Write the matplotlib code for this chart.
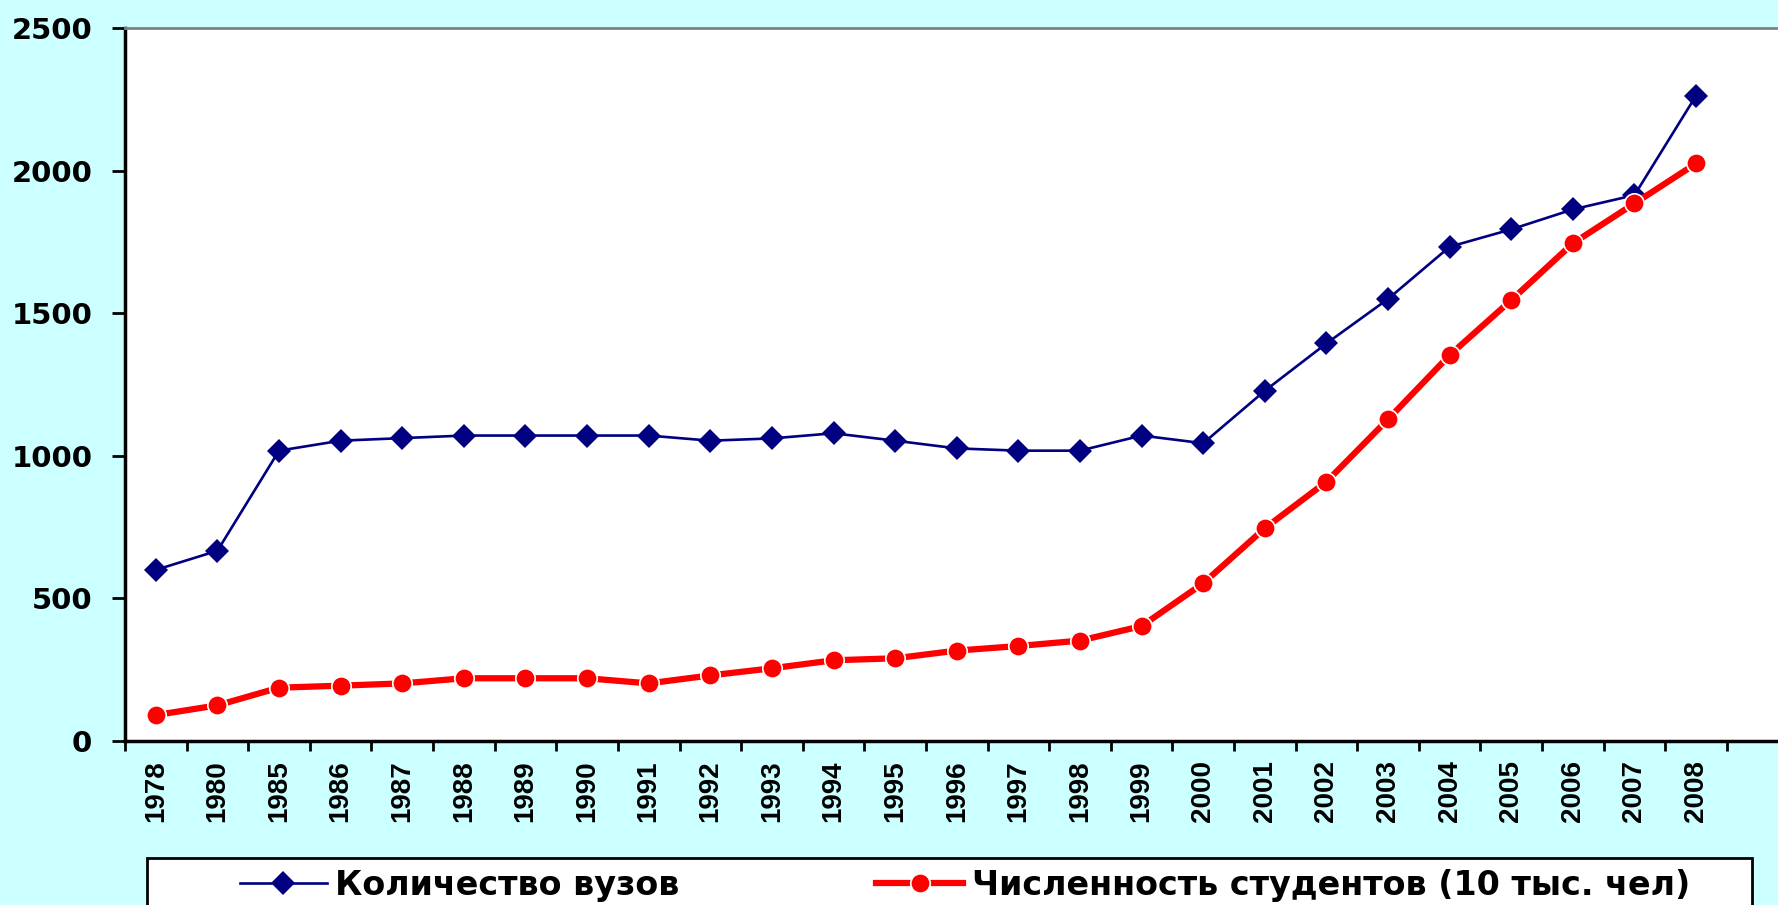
import matplotlib
matplotlib.use("Agg")
import matplotlib.pyplot as plt
from matplotlib.patches import Rectangle
from matplotlib.ticker import FixedLocator

# data
years = ["1978", "1980", "1985", "1986", "1987", "1988", "1989", "1990", "1991",
         "1992", "1993", "1994", "1995", "1996", "1997", "1998", "1999", "2000",
         "2001", "2002", "2003", "2004", "2005", "2006", "2007", "2008"]
vuzy = [600, 667, 1018, 1053, 1062, 1071, 1071, 1071, 1071,
        1053, 1061, 1079, 1053, 1026, 1018, 1018, 1071, 1044,
        1228, 1394, 1550, 1733, 1794, 1864, 1914, 2263]
students = [91, 125, 187, 194, 202, 220, 220, 220, 202,
            230, 255, 283, 290, 317, 333, 352, 403, 553,
            746, 909, 1128, 1353, 1546, 1745, 1885, 2025]

label_vuzy = "Количество вузов"
label_students = "Численность студентов (10 тыс. чел)"

W, H = 1778, 905
bg = "#CCFFFF"

fig = plt.figure(figsize=(W / 100, H / 100), dpi=100, facecolor=bg)
ax = fig.add_axes([125 / W, (H - 741) / H, 1 - 125 / W + 0.02, 713 / H])
ax.set_facecolor("white")

x = list(range(len(years)))
ax.plot(x, vuzy, color="#000080", lw=1.9, marker="D", ms=12.5,
        mec="#000080", mew=0, label=label_vuzy, zorder=3)
ax.plot(x, students, color="#FF0000", lw=4.5, marker="o", ms=14,
        mec="white", mew=1.2, label=label_students, zorder=4)

ax.set_ylim(0, 2500)
ax.set_xlim(-0.5, -0.5 + (W * 1.02 - 125) / 61.5 - 0.05)
ax.set_yticks(range(0, 2501, 500))
ax.set_xticks(x)
ax.set_xticklabels(years, rotation=90, fontsize=20, fontweight="bold",
                   family=["Liberation Sans Narrow", "Liberation Sans"])
ax.xaxis.set_minor_locator(FixedLocator([i - 0.5 for i in range(len(years) + 1)]))
ax.tick_params(axis="x", which="major", length=0, pad=14)
ax.tick_params(axis="x", which="minor", length=7, width=2, direction="out")
ax.tick_params(axis="y", length=9.5, width=2, pad=14)
for t in ax.get_yticklabels():
    t.set_fontsize(21)
    t.set_fontweight("bold")
    t.set_family("DejaVu Sans")

ax.spines["left"].set_linewidth(2.5)
ax.spines["bottom"].set_linewidth(2.5)
ax.spines["top"].set_color("#808080")
ax.spines["top"].set_linewidth(2)
ax.spines["right"].set_visible(False)

# legend box, cut off at the bottom like the original
fig.patches.append(Rectangle((147 / W, -0.05), (1752 - 147) / W, (H - 858) / H + 0.05,
                             transform=fig.transFigure, facecolor="white",
                             edgecolor="black", lw=2, zorder=1))
leg = fig.legend(loc="center left", bbox_to_anchor=(240 / W, 1 - 885 / H),
                 ncol=2, frameon=False, borderpad=0, borderaxespad=0,
                 handlelength=2.6, handletextpad=0.26, columnspacing=5.9,
                 prop={"family": "DejaVu Sans", "weight": "bold", "size": 24})
leg.set_zorder(5)

fig.savefig("out.png", dpi=100, facecolor=bg)
